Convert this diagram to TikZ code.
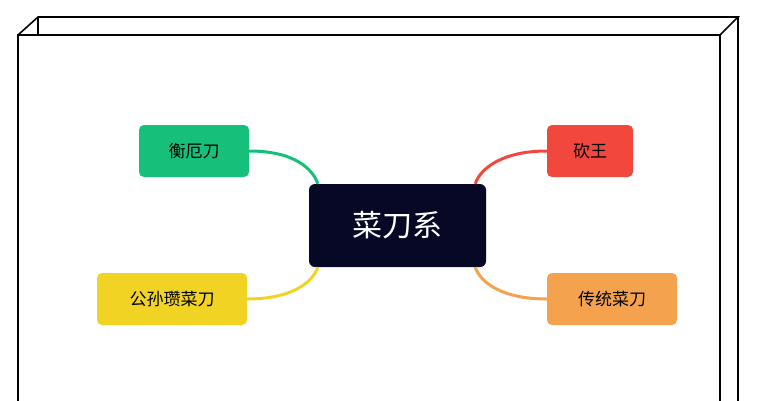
\documentclass[tikz,border=0pt]{standalone}
\usepackage{fontspec}
\newfontfamily\cjk{Noto Sans CJK SC}
\definecolor{cg}{HTML}{16C07A}
\definecolor{cr}{HTML}{F2473D}
\definecolor{cy}{HTML}{F0D323}
\definecolor{co}{HTML}{F4A24E}
\definecolor{cc}{HTML}{070826}
\begin{document}
\begin{tikzpicture}[x=1pt,y=-1pt,
  leaf/.style={rounded corners=5pt,minimum height=52pt,inner sep=0pt,font=\cjk\fontsize{17}{20}\selectfont,text=black},
  link/.style={line width=3pt}]
\useasboundingbox (0,0) rectangle (757,400);
\draw[line width=1.6pt] (18,420) -- (18,35) -- (720,35) -- (720,420);
\draw[line width=1.6pt] (18,35) -- (38,17) -- (738,17) -- (720,35);
\draw[line width=1.6pt] (38,17) -- (38,35);
\draw[line width=1.6pt] (738,17) -- (738,420);
\node[rounded corners=6pt,fill=cc,minimum width=177pt,minimum height=83pt,text=white,font=\cjk\fontsize{30}{34}\selectfont] (c) at (397.5,225.5) {菜刀系};
\node[leaf,fill=cg,minimum width=110pt] (a) at (194,151) {衡厄刀};
\node[leaf,fill=cr,minimum width=86pt] (b) at (590,151) {砍王};
\node[leaf,fill=cy,minimum width=150pt] (d) at (172,299) {公孙瓒菜刀};
\node[leaf,fill=co,minimum width=130pt] (e) at (612,299) {传统菜刀};
\coordinate (c1) at ([xshift=9pt]c.north west);
\coordinate (c2) at ([xshift=-11pt]c.north east);
\coordinate (c3) at ([xshift=9pt]c.south west);
\coordinate (c4) at ([xshift=-11pt]c.south east);
\draw[link,cg] (a.east) .. controls +(45,0) and +(-5,-15) .. (c1);
\draw[link,cr] (b.west) .. controls +(-45,0) and +(5,-15) .. (c2);
\draw[link,cy] (d.east) .. controls +(45,0) and +(-5,15) .. (c3);
\draw[link,co] (e.west) .. controls +(-45,0) and +(5,15) .. (c4);
\end{tikzpicture}
\end{document}
